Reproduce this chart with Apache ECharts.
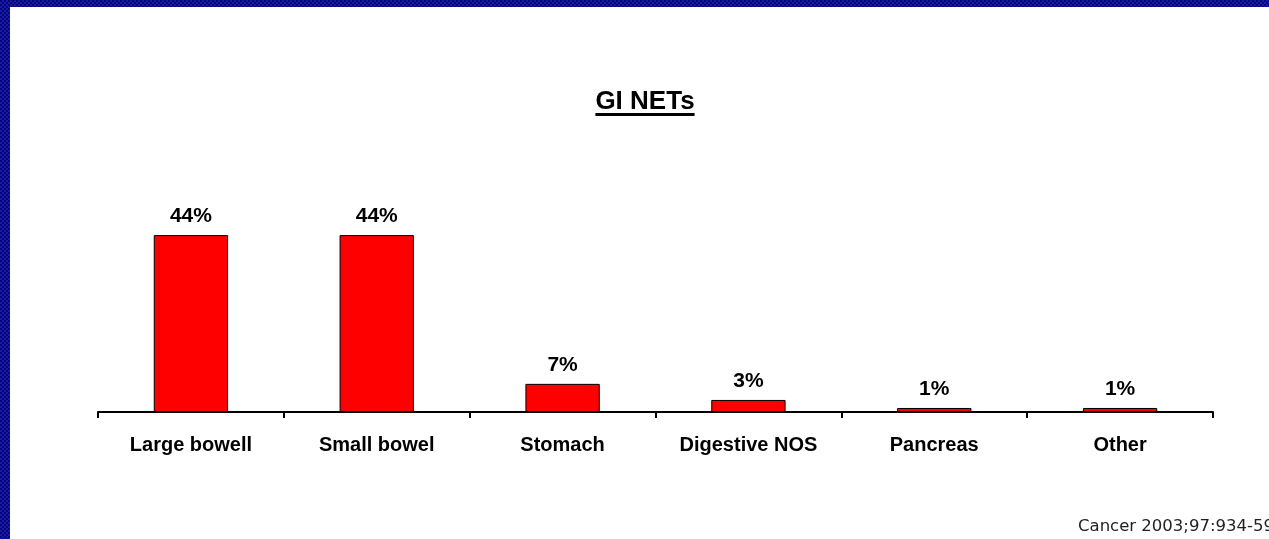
<!DOCTYPE html>
<html>
<head>
<meta charset="utf-8">
<script src="https://cdn.jsdelivr.net/npm/echarts@6/dist/echarts.min.js"></script>
<style>
  html, body { margin: 0; padding: 0; background: #fff; }
  #wrap { position: relative; width: 1269px; height: 539px; overflow: hidden; background: #fff; }
  #chart { position: absolute; left: 0; top: 0; width: 1269px; height: 539px; }
  .frame {
    position: absolute;
    background-color: #08088a;
    background-image: repeating-conic-gradient(#1a1aa6 0 25%, #05057a 0 50%);
    background-size: 4px 4px;
  }
  #frameLeft { left: 0; top: 0; width: 10px; height: 539px; }
  #frameTop { left: 0; top: 0; width: 1269px; height: 7px; }
</style>
</head>
<body>
<div id="wrap">
  <div id="chart"></div>
  <div class="frame" id="frameTop"></div>
  <div class="frame" id="frameLeft"></div>
</div>
<script>
// Share of gastrointestinal neuroendocrine tumours by primary site (%)
const categories = ['Large bowell', 'Small bowel', 'Stomach', 'Digestive NOS', 'Pancreas', 'Other'];
const shares = [44, 44, 7, 3, 1, 1];
const chartTitle = 'GI NETs';
const sourceNote = 'Cancer 2003;97:934-59';

const FONT = '"Liberation Sans", Arial, sans-serif';
const titleSize = 26;
const titleCenterX = 645;
const titleMidY = 103;

// width of the title text, used to size its underline
const ctx = document.createElement('canvas').getContext('2d');
ctx.font = 'bold ' + titleSize + 'px "Liberation Sans", Arial, sans-serif';
const titleWidth = ctx.measureText(chartTitle).width;

const chart = echarts.init(document.getElementById('chart'), null, { renderer: 'canvas' });

chart.setOption({
  animation: false,
  backgroundColor: '#ffffff',
  grid: { left: 98, right: 56, top: 211, bottom: 127, containLabel: false },
  xAxis: {
    type: 'category',
    data: categories,
    boundaryGap: true,
    axisLine: { show: true, lineStyle: { color: '#000', width: 2 } },
    axisTick: { show: true, alignWithLabel: false, length: 6, lineStyle: { color: '#000', width: 2 } },
    axisLabel: {
      margin: 23,
      color: '#000',
      fontFamily: FONT,
      fontWeight: 'bold',
      fontSize: 20
    },
    splitLine: { show: false }
  },
  yAxis: {
    type: 'value',
    min: 0,
    max: 50,
    show: false,
    splitLine: { show: false }
  },
  series: [{
    type: 'bar',
    data: shares,
    barWidth: '40%',
    itemStyle: { color: '#ff0000', borderColor: '#000', borderWidth: 1 },
    label: {
      show: true,
      position: 'top',
      distance: 8,
      formatter: '{c}%',
      color: '#000',
      fontFamily: FONT,
      fontWeight: 'bold',
      fontSize: 21
    }
  }],
  graphic: [
    {
      type: 'text',
      left: titleCenterX - titleWidth / 2,
      top: titleMidY - titleSize / 2 - 1,
      style: {
        text: chartTitle,
        fill: '#000',
        font: 'bold ' + titleSize + 'px "Liberation Sans", Arial, sans-serif'
      }
    },
    {
      type: 'rect',
      shape: { x: titleCenterX - titleWidth / 2, y: 113, width: titleWidth, height: 3 },
      style: { fill: '#000' }
    },
    {
      type: 'text',
      left: 1078,
      top: 518,
      style: {
        text: sourceNote,
        fill: '#222',
        font: '16.5px "DejaVu Sans", Verdana, sans-serif'
      }
    }
  ]
});
</script>
</body>
</html>
